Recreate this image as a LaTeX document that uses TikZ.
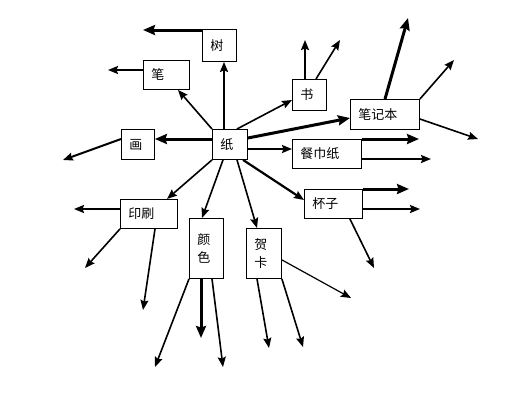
\documentclass[tikz,border=0pt]{standalone}
\usepackage{fontspec}
\newfontfamily\cjk{Noto Sans CJK SC}
\usetikzlibrary{arrows.meta,calc}
\begin{document}
\begin{tikzpicture}[x=1pt,y=-1pt,
  box/.style={draw,line width=0.9pt,anchor=north west,inner xsep=8pt,inner ysep=0pt,
    align=left,font=\cjk\fontsize{13}{18}\selectfont},
  arr/.style={line width=1.6pt,-{Stealth[length=10pt,width=8pt,inset=1.5pt]}},
  thk/.style={line width=3pt,-{Stealth[length=12pt,width=10pt,inset=1.5pt]}}]
\useasboundingbox (0,0) rectangle (529,408);
\fill[white] (0,0) rectangle (529,408);
% nodes
\node[box,text width=19pt,minimum height=30pt] (zhi) at (212,129) {纸};
\node[box,text width=18pt,minimum height=32pt] (shu) at (202,29) {树};
\node[box,text width=30pt,minimum height=29pt] (bi) at (143,60) {笔};
\node[box,text width=17pt,minimum height=30pt] (hua) at (121,129) {画};
\node[box,text width=18pt,minimum height=31pt] (book) at (292,79) {书};
\node[box,text width=53pt,minimum height=30pt] (bjb) at (350,99) {笔记本};
\node[box,text width=53pt,minimum height=29pt] (cjz) at (292,139) {餐巾纸};
\node[box,text width=42pt,minimum height=29pt] (bz) at (304,189) {杯子};
\node[box,text width=41pt,minimum height=29pt] (ys) at (120,199) {印刷};
\node[box,text width=18pt,minimum height=60pt] (yse) at (189,218) {颜\\色};
\node[box,text width=19pt,minimum height=50pt] (hk) at (246,228) {贺\\卡};
% free ends
\coordinate (t1) at (143,30);
\coordinate (t2) at (108,70);
\coordinate (t3) at (63,160);
\coordinate (t4) at (305,40);
\coordinate (t5) at (340,40);
\coordinate (t6) at (408,18);
\coordinate (t7) at (454,60);
\coordinate (t8) at (478,139);
\coordinate (t9) at (419,139);
\coordinate (t10) at (431,159);
\coordinate (t11) at (409,189);
\coordinate (t12) at (420,209);
\coordinate (t13) at (374,268);
\coordinate (t14) at (74,209);
\coordinate (t15) at (85,268);
\coordinate (t16) at (143,310);
\coordinate (t17) at (155,367);
\coordinate (t18) at (201,338);
\coordinate (t19) at (223,367);
\coordinate (t20) at (269,348);
\coordinate (t21) at (303,347);
\coordinate (t22) at (351,298);
% from zhi
\draw[arr,line width=2pt] ($(zhi.north west)+(12,0)$) -- ($(shu.south west)+(22,0)$);
\draw[arr] (zhi.north west) -- ($(bi.south west)+(35,0)$);
\draw[thk] ($(zhi.north west)+(0,10)$) -- ($(hua.north east)+(0,10)$);
\draw[arr] ($(zhi.north west)+(25,0)$) -- ($(book.north west)+(0,21)$);
\draw[thk] ($(zhi.north east)+(0,9)$) -- ($(bjb.north west)+(0,19)$);
\draw[arr,line width=2pt] ($(zhi.north east)+(0,20)$) -- ($(cjz.north west)+(0,10)$);
\draw[arr,line width=2.2pt] ($(zhi.south west)+(31,0)$) -- ($(bz.north west)+(0,11)$);
\draw[arr] (zhi.south west) -- ($(ys.north west)+(47,0)$);
\draw[arr] ($(zhi.south west)+(11,0)$) -- ($(yse.north west)+(13,0)$);
\draw[arr] ($(zhi.south west)+(25,0)$) -- ($(hk.north west)+(11,0)$);
% outgoing
\draw[thk] ($(shu.north west)+(0,1)$) -- (t1);
\draw[arr,line width=2pt] ($(bi.north west)+(0,10)$) -- (t2);
\draw[arr,line width=2pt] ($(hua.north west)+(0,10)$) -- (t3);
\draw[arr,line width=2pt] ($(book.north west)+(13,0)$) -- (t4);
\draw[arr] ($(book.north west)+(24,0)$) -- (t5);
\draw[thk] ($(bjb.north west)+(35,0)$) -- (t6);
\draw[arr] (bjb.north east) -- (t7);
\draw[arr] ($(bjb.north east)+(0,20)$) -- (t8);
\draw[thk] (cjz.north east) -- (t9);
\draw[arr,line width=2pt] ($(cjz.north east)+(0,20)$) -- (t10);
\draw[thk] (bz.north east) -- (t11);
\draw[arr,line width=2pt] ($(bz.north east)+(0,20)$) -- (t12);
\draw[arr] ($(bz.south east)+(-13,0)$) -- (t13);
\draw[arr,line width=2pt] ($(ys.north west)+(0,10)$) -- (t14);
\draw[arr] (ys.south west) -- (t15);
\draw[arr] ($(ys.south west)+(35,0)$) -- (t16);
\draw[arr] (yse.south west) -- (t17);
\draw[thk] ($(yse.south west)+(12,0)$) -- (t18);
\draw[arr] ($(yse.south west)+(23,0)$) -- (t19);
\draw[arr] ($(hk.south west)+(11,0)$) -- (t20);
\draw[arr] (hk.south east) -- (t21);
\draw[arr,line width=1.2pt] ($(hk.south east)+(0,-19)$) -- (t22);
\end{tikzpicture}
\end{document}
